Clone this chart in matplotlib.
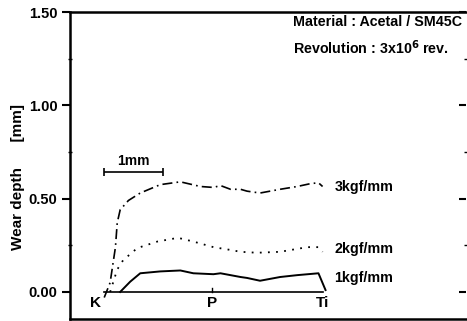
import matplotlib.pyplot as plt
from matplotlib.ticker import MultipleLocator

plt.rcParams['font.family'] = ['Liberation Sans', 'DejaVu Sans']
plt.rcParams['font.weight'] = 'bold'

# positions along the tooth profile [mm], K = 0
x3 = [0.00, 0.10, 0.19, 0.22, 0.27, 0.41, 0.61, 0.95, 1.29, 1.63, 1.85, 1.97, 2.14, 2.31, 2.42, 2.64, 2.98, 3.27, 3.49, 3.63, 3.70]
y3 = [-0.03, 0.05, 0.24, 0.37, 0.44, 0.49, 0.53, 0.575, 0.59, 0.565, 0.56, 0.57, 0.55, 0.55, 0.54, 0.53, 0.55, 0.565, 0.58, 0.585, 0.565]
x2 = [0.10, 0.22, 0.32, 0.56, 0.90, 1.25, 1.51, 1.85, 2.14, 2.31, 2.59, 2.98, 3.44, 3.63, 3.70]
y2 = [0.00, 0.12, 0.17, 0.235, 0.27, 0.29, 0.27, 0.24, 0.225, 0.215, 0.21, 0.215, 0.24, 0.24, 0.215]
x1 = [0.27, 0.44, 0.61, 0.95, 1.29, 1.51, 1.85, 1.97, 2.14, 2.31, 2.42, 2.64, 2.98, 3.27, 3.63, 3.75]
y1 = [0.00, 0.055, 0.10, 0.11, 0.115, 0.10, 0.095, 0.10, 0.09, 0.08, 0.075, 0.06, 0.08, 0.09, 0.10, 0.01]

points = ['K', 'P', 'Ti']
point_x = [0.0, 1.83, 3.70]
loads = ['1kgf/mm', '2kgf/mm', '3kgf/mm']
label_y = [0.075, 0.23, 0.56]

fig = plt.figure(figsize=(4.67, 3.21), dpi=100)
ax = fig.add_axes([70 / 467, 2 / 321, 396 / 467, 307 / 321])

ax.plot(x3, y3, color='black', lw=1.2, linestyle=(0, (6, 2.5, 1, 2.5)))
ax.plot(x2, y2, color='black', lw=1.3, linestyle=(0, (1, 3.5)))
ax.plot(x1, y1, color='black', lw=1.4)

# baseline along profile
ax.plot([point_x[0], point_x[-1]], [0, 0], color='black', lw=1.2)
ax.plot([point_x[1], point_x[1]], [0, 0.02], color='black', lw=1.0)
for name, px in zip(points, point_x):
    ax.text(px - (0.15 if name == 'K' else 0), -0.06, name, ha='center', va='center', fontsize=11)

for name, ly in zip(loads, label_y):
    ax.text(3.90, ly, name, ha='left', va='center', fontsize=10.3)

# 1 mm scale bar
ax.errorbar([0.5], [0.645], xerr=[0.5], color='black', lw=1.2, capsize=3, capthick=1.2)
ax.text(0.5, 0.665, '1mm', ha='center', va='bottom', fontsize=10)

ax.text(3.20, 1.445, 'Material : Acetal / SM45C', ha='left', va='center', fontsize=10.3)
ax.text(3.20, 1.31, 'Revolution : 3x10$^{\\mathbf{6}}$ rev.', ha='left', va='center', fontsize=10.3)

ax.set_xlim(-0.58, 6.13)
ax.set_ylim(-0.145, 1.5)
ax.yaxis.set_major_locator(MultipleLocator(0.5))
ax.yaxis.set_minor_locator(MultipleLocator(0.25))
ax.set_yticks([0, 0.5, 1.0, 1.5])
ax.set_yticklabels(['0.00', '0.50', '1.00', '1.50'], fontsize=10.5, fontweight='bold')
ax.set_xticks([])
ax.tick_params(axis='y', which='major', direction='out', length=6, width=1.5, pad=3)
ax.tick_params(axis='y', which='major', right=True)
ax.tick_params(axis='y', which='minor', direction='inout', length=3, width=1.0, right=True)
for t in ax.yaxis.get_major_ticks():
    t.tick2line.set_markersize(5)
    t.tick2line.set_marker(0)
ax.set_ylabel('Wear depth      [mm]', fontsize=11, fontweight='bold')
ax.yaxis.set_label_coords(-0.114, 0.4625)

for s in ['left', 'top', 'bottom']:
    ax.spines[s].set_linewidth(1.8)
ax.spines['right'].set_visible(False)

fig.savefig('out.png', dpi=100)
